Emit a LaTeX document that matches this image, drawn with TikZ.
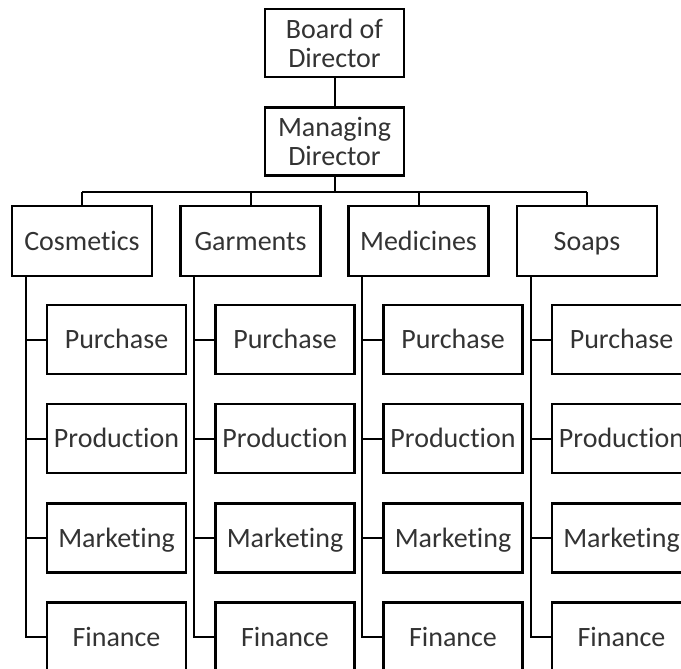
\documentclass[tikz,border=0pt]{standalone}
\usepackage{fontspec}
\setmainfont{Carlito}[Ligatures=NoCommon]
\usetikzlibrary{calc}

\tikzset{
  box/.style={draw=black,line width=2.6pt,inner sep=0pt,text=black!80,
    font=\fontsize{28}{29}\selectfont,align=center},
  headbox/.style={box,minimum width=139pt,minimum height=68pt},
  deptbox/.style={box,minimum width=140pt,minimum height=70pt,text height=18pt,text depth=0pt},
  unitbox/.style={box,minimum width=139pt,minimum height=69pt,text height=18pt,text depth=0pt},
  link/.style={line width=2pt,color=black}
}

\begin{document}
\begin{tikzpicture}[x=1pt,y=-1pt]
\useasboundingbox (0,0) rectangle (681,669);
\clip (0,0) rectangle (681,669);

\node[headbox] (board) at (334.5,43) {Board of\\Director};
\node[headbox] (md) at (334.5,141.5) {Managing\\Director};
\coordinate (bus) at (334.5,192);

\draw[link] (board) -- (md);
\draw[link] (md) -- (md.south |- bus);

\foreach \n/\x/\t in {cos/82/Cosmetics,gar/250.5/Garments,med/418.5/Medicines,soa/587/Soaps}{
  \node[deptbox] (\n) at (\x,241) {\t};
  \coordinate (\n spine) at ([xshift=15pt]\n.south west);
  \node[unitbox] (\n pur) at (\x+34.5,339.5) {Purchase};
  \node[unitbox] (\n pro) at (\x+34.5,438.5) {Production};
  \node[unitbox] (\n mar) at (\x+34.5,538) {Marketing};
  \node[unitbox] (\n fin) at (\x+34.5,637) {Finance};
  \draw[link] (\n.north) -- (\n.north |- bus);
  \draw[link] (\n spine) |- (\n fin.west);
  \draw[link] (\n pur.west) -- (\n pur.west -| \n spine);
  \draw[link] (\n pro.west) -- (\n pro.west -| \n spine);
  \draw[link] (\n mar.west) -- (\n mar.west -| \n spine);
}

\draw[link] (cos.north |- bus) -- (soa.north |- bus);

\end{tikzpicture}
\end{document}
